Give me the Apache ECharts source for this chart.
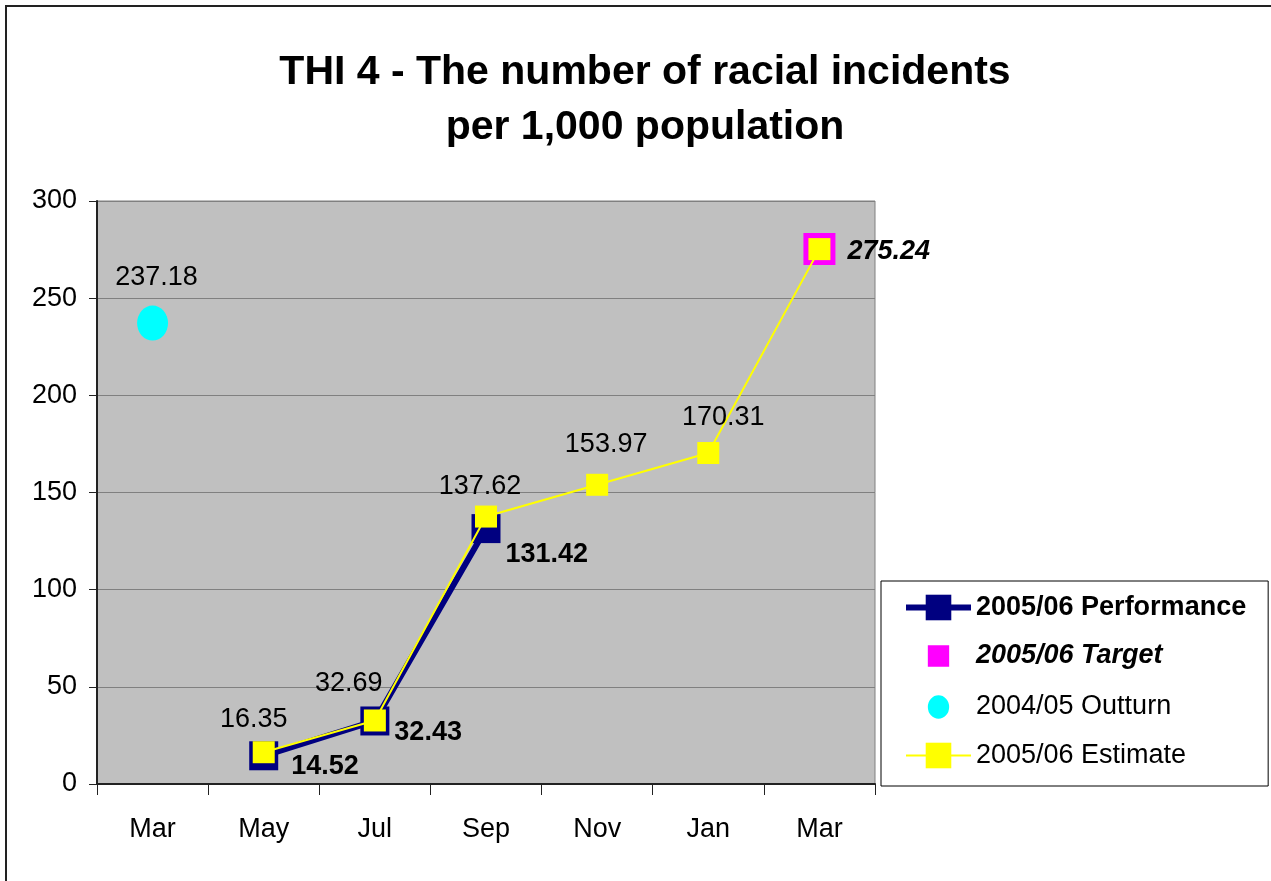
<!DOCTYPE html>
<html>
<head>
<meta charset="utf-8">
<script src="https://cdn.jsdelivr.net/npm/echarts@6/dist/echarts.min.js"></script>
<style>
  html, body { margin: 0; padding: 0; background: #fff; }
  #lineChart { width: 1271px; height: 881px; }
</style>
</head>
<body>
<div id="lineChart"></div>
<script>
const categories = ['Mar', 'May', 'Jul', 'Sep', 'Nov', 'Jan', 'Mar'];
const performance = [null, 14.52, 32.43, 131.42, null, null, null];
const target = [null, null, null, null, null, null, 275.24];
const outturn = [237.18, null, null, null, null, null, null];
const estimate = [null, 16.35, 32.69, 137.62, 153.97, 170.31, 275.24];
const yTicks = [0, 50, 100, 150, 200, 250, 300];

const FONT = 'Liberation Sans, Arial, sans-serif';

// label nudges to sit where Excel put them
const perfOffsets = [null, [8, 11], [0, 12], [0, 26], null, null, null];
const estOffsets = [null, [-10, -3], [-26, -7], [-6, -1], [9, -11], [15, -6], null];

function withLabels(values, offsets) {
  return values.map((v, i) => {
    if (v === null) return null;
    if (!offsets[i]) return { value: v, label: { show: false } };
    return { value: v, label: { offset: offsets[i] } };
  });
}

// small square / ellipse icons for the marker-only legend entries
const squareIcon = 'path://M0,0L0.01,0Z M30,30L30.01,30Z M5,5h20v20h-20Z';
const circleIcon = 'path://M0,0L0.01,0Z M30,30L30.01,30Z M5,15a10,11 0 1,0 20,0a10,11 0 1,0 -20,0Z';

const chart = echarts.init(document.getElementById('lineChart'));

const option = {
  animation: false,
  textStyle: { fontFamily: FONT },
  title: {
    text: 'THI 4 - The number of racial incidents\nper 1,000 population',
    left: 640,
    top: 40,
    textAlign: 'center',
    textStyle: {
      fontFamily: FONT,
      fontSize: 41,
      fontWeight: 'bold',
      color: '#000',
      lineHeight: 55
    }
  },
  graphic: [{
    type: 'rect',
    shape: { x: 6, y: 6, width: 1400, height: 1000 },
    style: { fill: 'none', stroke: '#222', lineWidth: 2 },
    silent: true,
    z: -10
  }],
  legend: {
    orient: 'vertical',
    left: 881,
    top: 581,
    padding: [13, 22, 17, 22],
    itemWidth: 65,
    itemHeight: 32,
    itemGap: 19,
    backgroundColor: '#fff',
    borderColor: '#000',
    borderWidth: 1,
    textStyle: { fontFamily: FONT, fontSize: 27, color: '#000' },
    data: [
      { name: '2005/06 Performance', lineStyle: { color: '#000080', width: 6 }, textStyle: { fontWeight: 'bold' } },
      { name: '2005/06 Target', icon: squareIcon, textStyle: { fontWeight: 'bold', fontStyle: 'italic' } },
      { name: '2004/05 Outturn', icon: circleIcon },
      { name: '2005/06 Estimate', lineStyle: { color: '#ffff00', width: 2 } }
    ]
  },
  grid: {
    left: 97,
    top: 201,
    right: 396,
    bottom: 97,
    show: true,
    backgroundColor: '#c0c0c0',
    borderColor: '#808080',
    borderWidth: 1
  },
  xAxis: {
    type: 'category',
    data: categories,
    boundaryGap: true,
    axisLine: { show: true, lineStyle: { color: '#222', width: 2 } },
    axisTick: { show: true, length: 11, lineStyle: { color: '#222' } },
    axisLabel: { fontFamily: FONT, fontSize: 27, color: '#000', margin: 32 }
  },
  yAxis: {
    type: 'value',
    min: yTicks[0],
    max: yTicks[yTicks.length - 1],
    interval: 50,
    axisLine: { show: true, lineStyle: { color: '#222', width: 2 } },
    axisTick: { show: true, length: 8, lineStyle: { color: '#222' } },
    axisLabel: { fontFamily: FONT, fontSize: 27, color: '#000', margin: 20 },
    splitLine: { show: true, lineStyle: { color: '#808080', width: 1 } }
  },
  series: [
    {
      name: '2005/06 Performance',
      type: 'line',
      data: withLabels(performance, perfOffsets),
      symbol: 'rect',
      symbolSize: 29,
      lineStyle: { color: '#000080', width: 6 },
      itemStyle: { color: '#000080' },
      label: {
        show: true,
        position: 'right',
        fontFamily: FONT,
        fontSize: 27,
        fontWeight: 'bold',
        color: '#000'
      },
      z: 2
    },
    {
      name: '2005/06 Target',
      type: 'scatter',
      data: target,
      symbol: 'rect',
      symbolSize: 32,
      itemStyle: { color: '#ff00ff', opacity: 1 },
      label: {
        show: true,
        position: 'right',
        offset: [7, 2],
        fontFamily: FONT,
        fontSize: 27,
        fontWeight: 'bold',
        fontStyle: 'italic',
        color: '#000'
      },
      z: 3
    },
    {
      name: '2004/05 Outturn',
      type: 'scatter',
      data: outturn,
      symbol: 'circle',
      symbolSize: [31, 35],
      itemStyle: { color: '#00ffff', opacity: 1 },
      label: {
        show: true,
        position: 'top',
        offset: [4, -10],
        fontFamily: FONT,
        fontSize: 27,
        color: '#000'
      },
      z: 3
    },
    {
      name: '2005/06 Estimate',
      type: 'line',
      data: withLabels(estimate, estOffsets),
      symbol: 'rect',
      symbolSize: 22,
      lineStyle: { color: '#ffff00', width: 2 },
      itemStyle: { color: '#ffff00' },
      label: {
        show: true,
        position: 'top',
        fontFamily: FONT,
        fontSize: 27,
        color: '#000'
      },
      z: 4
    }
  ]
};

chart.setOption(option);
</script>
</body>
</html>
